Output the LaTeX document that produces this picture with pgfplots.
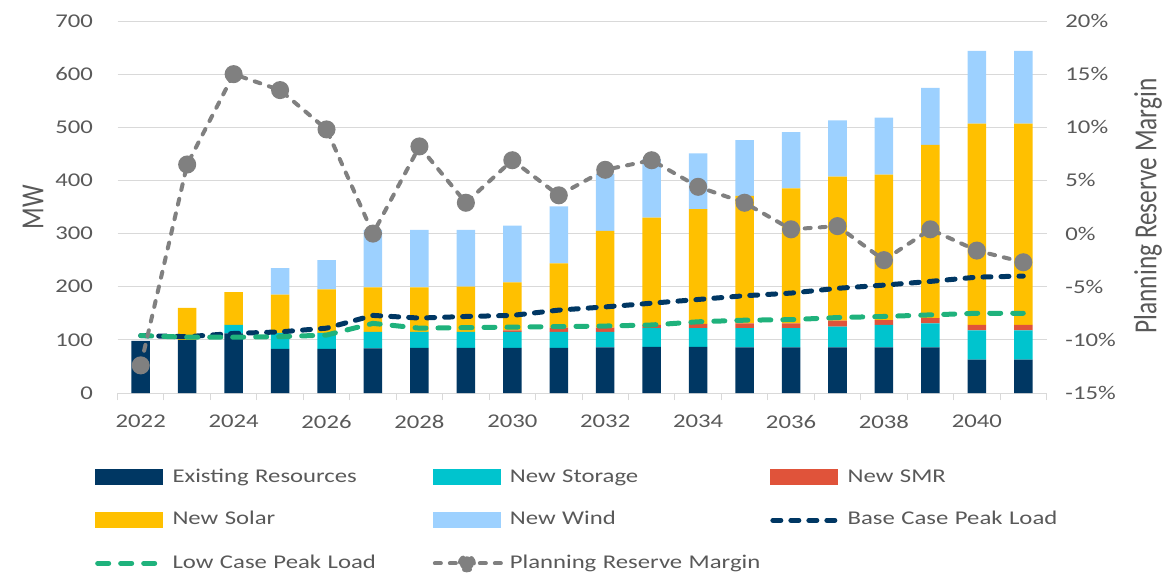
\documentclass[border=0pt]{standalone}
\usepackage{fontspec}
\setmainfont[FakeStretch=1.27]{Carlito}
\newfontfamily\plainfont{Carlito}
\usepackage{pgfplots}
\pgfplotsset{compat=1.18}
\usepackage{pgfplotstable}
\definecolor{navyc}{HTML}{003763}
\definecolor{tealc}{HTML}{00C4CE}
\definecolor{redc}{HTML}{E0533A}
\definecolor{solarc}{HTML}{FFC000}
\definecolor{windc}{HTML}{9DD1FF}
\definecolor{greenc}{HTML}{1FB27C}
\definecolor{grayc}{HTML}{808080}
\definecolor{gridc}{HTML}{D9D9D9}
\definecolor{txtc}{HTML}{595959}

\pgfplotsset{
  swatch/.style={legend image code/.code={\fill[##1] (0pt,-6pt) rectangle (51pt,6pt);}},
  linesample/.style={legend image code/.code={\draw[##1] (2pt,0pt) -- (51pt,0pt);}},
  prmsample/.style={legend image code/.code={\draw[##1] (1.5pt,0pt) -- (51pt,0pt); \fill[grayc] (25.5pt,0pt) circle (5.25pt);}},
}

\pgfplotstableread{
year exist stor smr solar wind base low prm
2022 98 0 0 0 0 108 108 -12.4
2023 100 0 0 60 0 106 105 6.5
2024 112 16 0 62 0 112 105 15.0
2025 83 30 0 72 50 115 106 13.5
2026 83 30 0 82 55 122 109 9.8
2027 84 31 0 84 108 146 131 0.0
2028 85 30 0 84 108 141 122 8.2
2029 85 30 0 85 107 144 123 2.9
2030 85 30 3 90 107 146 124 6.9
2031 85 30 8 121 107 156 125 3.6
2032 86 29 8 182 107 162 126 6.0
2033 87 35 6 202 110 169 128 6.9
2034 87 35 8 216 105 176 134 4.4
2035 86 36 9 240 105 183 137 2.9
2036 86 36 9 254 106 188 138 0.4
2037 86 39 11 271 106 197 142 0.7
2038 86 42 9 274 107 203 144 -2.5
2039 86 45 10 326 107 210 147 0.4
2040 63 55 10 379 137 218 150 -1.6
2041 63 55 10 379 137 220 150 -2.7
}\data

\begin{document}
\begin{tikzpicture}
\useasboundingbox (-88.125pt,-136.5pt) rectangle (789.375pt,294.75pt);
\pgfplotsset{
  basestyle/.style={width=696.75pt, height=279pt, scale only axis, xmin=2021.5, xmax=2041.5, at={(0,0)}, anchor=south west,
    /pgf/number format/assume math mode=true, /pgf/number format/1000 sep={},
    tick label style={font=\fontsize{14.6}{17}\selectfont, text=txtc}},
}
\begin{axis}[basestyle, ymin=0, ymax=700, ytick={0,100,...,700},
  ybar stacked, bar width=13.9pt,
  ymajorgrids, grid style={draw=gridc, line width=0.75pt},
  axis x line*=bottom, axis y line*=left,
  y axis line style={draw=none}, x axis line style={draw=gridc, line width=0.75pt},
  xtick={2022,2024,...,2040}, major x tick style={draw=none},
  minor xtick={2021.5,2022.5,...,2041.5}, minor x tick style={draw=gridc, line width=0.75pt},
  minor tick length=5.25pt, tick align=outside, ytick style={draw=none},
  xticklabel style={anchor=north, inner sep=0pt, yshift=-12pt},
  yticklabel style={anchor=east, inner sep=0pt, xshift=-14pt},
  legend columns=3, legend cell align=left,
  legend style={draw=none, fill=none, at={(-0.0242,-0.2016)}, anchor=north west,
    font=\fontsize{14.6}{17}\selectfont, text=txtc, column sep=5.25pt, row sep=18.25pt,
    inner sep=0pt, outer sep=0pt,
    nodes={inner sep=0pt, text width=190pt, align=left, text height=10.5pt, text depth=3.5pt}},
]
\addplot[fill=navyc, draw=none, forget plot] table[x=year,y=exist]{\data};
\addplot[fill=tealc, draw=none, forget plot] table[x=year,y=stor]{\data};
\addplot[fill=redc, draw=none, forget plot] table[x=year,y=smr]{\data};
\addplot[fill=solarc, draw=none, forget plot] table[x=year,y=solar]{\data};
\addplot[fill=windc, draw=none, forget plot] table[x=year,y=wind]{\data};
\addlegendimage{swatch, fill=navyc, draw=none}
\addlegendentry{Existing Resources}
\addlegendimage{swatch, fill=tealc, draw=none}
\addlegendentry{New Storage}
\addlegendimage{swatch, fill=redc, draw=none}
\addlegendentry{New SMR}
\addlegendimage{swatch, fill=solarc, draw=none}
\addlegendentry{New Solar}
\addlegendimage{swatch, fill=windc, draw=none}
\addlegendentry{New Wind}
\addlegendimage{linesample, draw=navyc, line width=3.75pt, line cap=round, dash pattern=on 6pt off 7.5pt}
\addlegendentry{Base Case Peak Load}
\addlegendimage{linesample, draw=greenc, line width=3.75pt, line cap=round, dash pattern=on 8.25pt off 9pt}
\addlegendentry{Low Case Peak Load}
\addlegendimage{prmsample, draw=grayc, line width=3pt, line cap=round, dash pattern=on 4.5pt off 6.75pt}
\addlegendentry{Planning Reserve Margin}
\end{axis}

\begin{axis}[basestyle, ymin=0, ymax=700, hide axis]
\addplot[draw=navyc, line width=3.75pt, line cap=round, dash pattern=on 6pt off 7.5pt, mark=none] table[x=year,y=base]{\data};
\addplot[draw=greenc, line width=3.75pt, line cap=round, dash pattern=on 8.25pt off 9pt, mark=none] table[x=year,y=low]{\data};
\end{axis}

\begin{axis}[basestyle, ymin=-15, ymax=20, ytick={-15,-10,...,20},
  axis y line*=right, axis x line=none, xtick=\empty,
  y axis line style={draw=none}, ytick style={draw=none},
  yticklabel={\pgfmathprintnumber{\tick}\%},
  yticklabel style={anchor=west, inner sep=0pt, xshift=14pt},
]
\addplot[draw=grayc, line width=3pt, line cap=round, dash pattern=on 4.5pt off 6.75pt,
  mark=*, mark size=5.25pt, mark options={solid, fill=grayc, draw=none}] table[x=year,y=prm]{\data};
\end{axis}

\begin{scope}[shift={(-63.4pt,139.5pt)}]
\node[xscale=1.27, rotate=90, transform shape, font=\plainfont\fontsize{19}{22}\selectfont, text=txtc, inner sep=0pt] at (0,0) {MW};
\end{scope}
\begin{scope}[shift={(772.9pt,140.25pt)}]
\node[xscale=1.27, rotate=90, transform shape, font=\plainfont\fontsize{19}{22}\selectfont, text=txtc, inner sep=0pt] at (0,0) {Planning Reserve Margin};
\end{scope}
\end{tikzpicture}
\end{document}
